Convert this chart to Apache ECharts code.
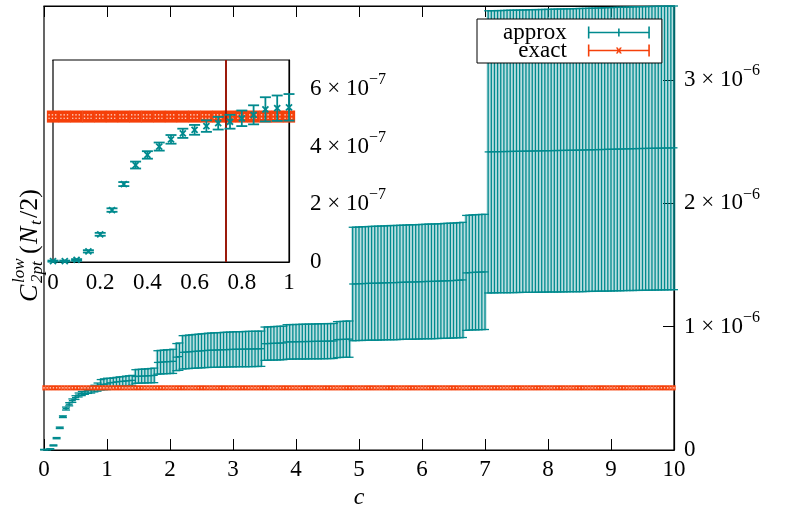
<!DOCTYPE html>
<html>
<head>
<meta charset="utf-8">
<title>C2pt low approx vs exact</title>
<script src="https://cdn.jsdelivr.net/npm/echarts@6/dist/echarts.min.js"></script>
<style>
  html, body { margin: 0; padding: 0; background: #fff; }
  #main { width: 785px; height: 510px; }
</style>
</head>
<body>
<div id="main"></div>
<script>
// c grid (step 0.05)
const cValues = [
  0,0.05,0.1,0.15,0.2,0.25,0.3,0.35,0.4,0.45,0.5,0.55,0.6,0.65,0.7,0.75,0.8,0.85,0.9,0.95,
  1,1.05,1.1,1.15,1.2,1.25,1.3,1.35,1.4,1.45,1.5,1.55,1.6,1.65,1.7,1.75,1.8,1.85,1.9,1.95,
  2,2.05,2.1,2.15,2.2,2.25,2.3,2.35,2.4,2.45,2.5,2.55,2.6,2.65,2.7,2.75,2.8,2.85,2.9,2.95,
  3,3.05,3.1,3.15,3.2,3.25,3.3,3.35,3.4,3.45,3.5,3.55,3.6,3.65,3.7,3.75,3.8,3.85,3.9,3.95,
  4,4.05,4.1,4.15,4.2,4.25,4.3,4.35,4.4,4.45,4.5,4.55,4.6,4.65,4.7,4.75,4.8,4.85,4.9,4.95,
  5,5.05,5.1,5.15,5.2,5.25,5.3,5.35,5.4,5.45,5.5,5.55,5.6,5.65,5.7,5.75,5.8,5.85,5.9,5.95,
  6,6.05,6.1,6.15,6.2,6.25,6.3,6.35,6.4,6.45,6.5,6.55,6.6,6.65,6.7,6.75,6.8,6.85,6.9,6.95,
  7,7.05,7.1,7.15,7.2,7.25,7.3,7.35,7.4,7.45,7.5,7.55,7.6,7.65,7.7,7.75,7.8,7.85,7.9,7.95,
  8,8.05,8.1,8.15,8.2,8.25,8.3,8.35,8.4,8.45,8.5,8.55,8.6,8.65,8.7,8.75,8.8,8.85,8.9,8.95,
  9,9.05,9.1,9.15,9.2,9.25,9.3,9.35,9.4,9.45,9.5,9.55,9.6,9.65,9.7,9.75,9.8,9.85,9.9,9.95,
  10
];

// approx C2pt^low(Nt/2), in units of 1e-7
const approxMean = [
  0.03,0.03,0.07,0.37,0.96,1.80,2.70,3.36,3.71,4.00,4.25,4.46,4.58,4.71,4.81,4.86,4.98,5.10,5.29,5.33,
  5.36,5.45,5.48,5.52,5.55,5.57,5.60,5.62,5.65,5.96,5.98,5.99,6.00,6.02,6.03,6.05,7.10,7.12,7.14,7.16,
  7.17,7.19,7.53,7.57,7.92,7.94,7.96,7.98,8.00,8.02,8.04,8.06,8.08,8.09,8.10,8.11,8.12,8.13,8.14,8.15,
  8.16,8.17,8.17,8.18,8.18,8.19,8.19,8.20,8.20,8.21,8.62,8.63,8.64,8.65,8.66,8.67,8.68,8.76,8.77,8.77,
  8.78,8.78,8.79,8.79,8.80,8.80,8.81,8.81,8.82,8.82,8.83,8.83,8.84,8.95,8.96,8.97,8.98,8.99,13.46,13.47,
  13.48,13.49,13.50,13.51,13.52,13.52,13.53,13.54,13.55,13.56,13.57,13.57,13.58,13.59,13.60,13.61,13.62,13.62,13.63,13.64,
  13.65,13.66,13.67,13.67,13.68,13.69,13.70,13.71,13.72,13.73,13.74,13.76,13.77,13.79,14.36,14.38,14.40,14.41,14.42,14.43,
  14.44,24.17,24.18,24.18,24.19,24.19,24.20,24.20,24.21,24.21,24.22,24.22,24.23,24.23,24.24,24.24,24.25,24.25,24.26,24.26,
  24.27,24.27,24.28,24.28,24.29,24.29,24.30,24.30,24.31,24.31,24.32,24.32,24.33,24.34,24.34,24.35,24.36,24.36,24.37,24.38,
  24.38,24.39,24.40,24.40,24.41,24.42,24.42,24.43,24.44,24.44,24.45,24.45,24.46,24.46,24.47,24.47,24.48,24.48,24.49,24.49,
  24.50
];
const approxErr = [
  0.02,0.02,0.03,0.04,0.05,0.06,0.07,0.12,0.13,0.14,0.15,0.16,0.17,0.20,0.22,0.24,0.27,0.33,0.42,0.44,
  0.46,0.36,0.37,0.37,0.38,0.38,0.39,0.40,0.40,0.55,0.56,0.56,0.57,0.57,0.58,0.59,0.95,0.96,0.96,0.97,
  0.97,0.98,1.10,1.11,1.35,1.35,1.36,1.36,1.37,1.37,1.38,1.38,1.39,1.39,1.40,1.40,1.40,1.41,1.41,1.41,
  1.42,1.42,1.42,1.42,1.43,1.43,1.43,1.43,1.43,1.43,1.35,1.35,1.35,1.36,1.36,1.36,1.36,1.40,1.40,1.40,
  1.40,1.40,1.41,1.41,1.41,1.41,1.41,1.42,1.42,1.42,1.42,1.42,1.42,1.46,1.46,1.46,1.47,1.47,4.60,4.60,
  4.60,4.61,4.61,4.61,4.61,4.62,4.62,4.62,4.62,4.62,4.63,4.63,4.63,4.63,4.63,4.63,4.64,4.64,4.64,4.64,
  4.64,4.64,4.65,4.65,4.65,4.65,4.65,4.66,4.66,4.66,4.66,4.66,4.67,4.67,4.66,4.66,4.66,4.67,4.67,4.67,
  4.67,11.44,11.44,11.44,11.44,11.44,11.44,11.45,11.45,11.45,11.45,11.45,11.45,11.45,11.46,11.46,11.46,11.46,11.46,11.46,
  11.46,11.46,11.47,11.47,11.47,11.47,11.47,11.47,11.47,11.48,11.48,11.48,11.48,11.48,11.48,11.48,11.48,11.48,11.49,11.49,
  11.49,11.49,11.49,11.49,11.49,11.49,11.49,11.50,11.50,11.50,11.50,11.50,11.50,11.50,11.50,11.50,11.50,11.50,11.50,11.50,
  11.50
];

// exact value (constant in c), units of 1e-7
const exactMean = 5.04;
const exactErr = 0.21;
// vertical marker in the inset
const cutoffC = 0.735;

const mainYTicks = [0, 10, 20, 30];
const mainYMantissa = ['0', '1 × 10', '2 × 10', '3 × 10'];
const mainYExp = ['', '−6', '−6', '−6'];
const insetYTicks = [0, 2, 4, 6];
const insetYMantissa = ['0', '2 × 10', '4 × 10', '6 × 10'];
const insetYExp = ['', '−7', '−7', '−7'];

const TEAL = '#008a8e';
const RED = '#f5400a';
const DARKRED = '#9b1a0c';
const FONT = 'Liberation Serif';

const approxData = cValues.map((c, i) => [c, approxMean[i], approxErr[i]]);
const exactData = cValues.map(c => [c, exactMean, exactErr]);
const approxInset = approxData.filter(d => d[0] <= 1);
const exactInset = exactData.filter(d => d[0] <= 1);

// error bar drawing (gnuplot style)
function errorBars(color, opt) {
  return function (params, api) {
    const c = api.value(0), v = api.value(1), e = api.value(2);
    const top = api.coord([c, v + e]);
    const bot = api.coord([c, v - e]);
    const mid = api.coord([c, v]);
    const x = mid[0], cw = opt.cap, m = opt.mark;
    const s = { stroke: color, lineWidth: opt.width };
    const kids = [];
    if (opt.shade) {
      kids.push({ type: 'rect', shape: { x: x - 1.6, y: top[1], width: 3.2, height: bot[1] - top[1] }, style: { fill: opt.shade } });
    }
    kids.push({ type: 'line', shape: { x1: x, y1: top[1], x2: x, y2: bot[1] }, style: s });
    kids.push({ type: 'line', shape: { x1: x - cw, y1: top[1], x2: x + cw, y2: top[1] }, style: s });
    kids.push({ type: 'line', shape: { x1: x - cw, y1: bot[1], x2: x + cw, y2: bot[1] }, style: s });
    if (opt.cross) {
      kids.push({ type: 'line', shape: { x1: x - m, y1: mid[1] - m, x2: x + m, y2: mid[1] + m }, style: s });
      kids.push({ type: 'line', shape: { x1: x - m, y1: mid[1] + m, x2: x + m, y2: mid[1] - m }, style: s });
    } else {
      kids.push({ type: 'line', shape: { x1: x - m, y1: mid[1], x2: x + m, y2: mid[1] }, style: s });
    }
    return { type: 'group', children: kids };
  };
}

// dense exact points merge into a solid band with small light gaps
function exactBand(opt) {
  return function (params, api) {
    const c = api.value(0), v = api.value(1), e = api.value(2);
    const p0 = api.coord([c - opt.half, v + e]);
    const p1 = api.coord([c + opt.half, v - e]);
    const mid = api.coord([c, v]);
    const kids = [{ type: 'rect', shape: { x: p0[0], y: p0[1], width: p1[0] - p0[0], height: p1[1] - p0[1] }, style: { fill: RED } }];
    opt.dots.forEach(d => kids.push({ type: 'rect',
      shape: { x: mid[0] + d[0] - 0.7, y: mid[1] + d[1] - 0.6, width: 1.4, height: 1.2 },
      style: { fill: '#ffe6dc' } }));
    return { type: 'group', children: kids };
  };
}

function sciLabel(ticks, mant, exps) {
  return function (v) {
    const i = ticks.indexOf(Math.round(v * 1000) / 1000);
    if (i < 0) return '';
    return exps[i] ? '{m|' + mant[i] + '}{e|' + exps[i] + '}' : '{m|' + mant[i] + '}';
  };
}
const sciRich = {
  m: { fontFamily: FONT, fontSize: 23, color: '#000', lineHeight: 34 },
  e: { fontFamily: FONT, fontSize: 16, color: '#000', lineHeight: 14, verticalAlign: 'top' }
};

const axisLine = { show: true, onZero: false, lineStyle: { color: '#000', width: 1.2 } };
const tickIn = { show: true, inside: true, length: 11, lineStyle: { color: '#000', width: 1 } };
const labelFont = { fontFamily: FONT, fontSize: 23, color: '#000' };

const myChart = echarts.init(document.getElementById('main'), null, { renderer: 'canvas' });

const option = {
  animation: false,
  backgroundColor: '#fff',
  grid: [
    { left: 44, right: 111, top: 6, bottom: 60, containLabel: false, outerBoundsMode: 'none',
      show: true, backgroundColor: 'transparent', borderColor: '#000', borderWidth: 1.2 },
    { left: 53, top: 60, width: 236, height: 202, containLabel: false, outerBoundsMode: 'none',
      show: true, backgroundColor: '#fff', borderColor: '#000', borderWidth: 1.2, z: 3 }
  ],
  xAxis: [
    { gridIndex: 0, type: 'value', min: 0, max: 10, interval: 1, position: 'bottom',
      axisLine: axisLine, axisTick: tickIn, splitLine: { show: false },
      axisLabel: Object.assign({ margin: 8 }, labelFont),
      name: 'c', nameLocation: 'middle', nameGap: 34,
      nameTextStyle: { fontFamily: FONT, fontSize: 24, fontStyle: 'italic', color: '#000' } },
    { gridIndex: 0, type: 'value', min: 0, max: 10, interval: 1, position: 'top',
      axisLine: axisLine, axisTick: tickIn, splitLine: { show: false }, axisLabel: { show: false } },
    { gridIndex: 1, type: 'value', min: 0, max: 1, interval: 0.2, position: 'bottom',
      axisLine: axisLine, axisTick: tickIn, splitLine: { show: false },
      axisLabel: Object.assign({ margin: 9 }, labelFont) },
    { gridIndex: 1, type: 'value', min: 0, max: 1, interval: 0.2, position: 'top',
      axisLine: axisLine, axisTick: tickIn, splitLine: { show: false }, axisLabel: { show: false } }
  ],
  yAxis: [
    { gridIndex: 0, type: 'value', min: 0, max: 36, interval: 10, position: 'right',
      axisLine: axisLine, axisTick: tickIn, splitLine: { show: false },
      axisLabel: { margin: 10, formatter: sciLabel(mainYTicks, mainYMantissa, mainYExp), rich: sciRich } },
    { gridIndex: 1, type: 'value', min: 0, max: 7, interval: 2, position: 'right',
      axisLine: axisLine, axisTick: tickIn, splitLine: { show: false },
      axisLabel: { margin: 21, formatter: sciLabel(insetYTicks, insetYMantissa, insetYExp), rich: sciRich } }
  ],
  legend: {
    left: 477, top: 19, orient: 'vertical', align: 'right',
    padding: [2, 12, 1, 26], itemGap: -5,
    backgroundColor: '#fff', borderColor: '#000', borderWidth: 1, borderRadius: 0,
    itemWidth: 62, itemHeight: 12, selectedMode: false,
    textStyle: { fontFamily: FONT, fontSize: 23, color: '#000', align: 'right',
      padding: [0, 16, 0, 0] },
    data: [
      { name: 'approx', itemStyle: { color: TEAL },
        icon: 'path://M0,0h1.6v12h-1.6z M0,5.2h62v1.6h-62z M60.4,0h1.6v12h-1.6z M30.2,2h1.6v8h-1.6z' },
      { name: 'exact', itemStyle: { color: RED },
        icon: 'path://M0,0h1.6v12h-1.6z M0,5.2h62v1.6h-62z M60.4,0h1.6v12h-1.6z M28,3h2l1,2l1,-2h2l-2,3l2,3h-2l-1,-2l-1,2h-2l2,-3z' }
    ]
  },
  graphic: [
    { type: 'group', x: 30, y: 236, rotation: Math.PI / 2, z: 10,
      children: [
        { type: 'text', x: -66, y: 0, style: { text: 'C', fontFamily: FONT, fontSize: 26, fontStyle: 'italic', fill: '#000', verticalAlign: 'middle' } },
        { type: 'text', x: -47, y: -10, style: { text: 'low', fontFamily: FONT, fontSize: 17, fontStyle: 'italic', fill: '#000', verticalAlign: 'middle' } },
        { type: 'text', x: -47, y: 8, style: { text: '2pt', fontFamily: FONT, fontSize: 17, fontStyle: 'italic', fill: '#000', verticalAlign: 'middle' } },
        { type: 'text', x: -18, y: 0, style: { text: '(', fontFamily: FONT, fontSize: 26, fill: '#000', verticalAlign: 'middle' } },
        { type: 'text', x: -8, y: 0, style: { text: 'N', fontFamily: FONT, fontSize: 26, fontStyle: 'italic', fill: '#000', verticalAlign: 'middle' } },
        { type: 'text', x: 11, y: 7, style: { text: 't', fontFamily: FONT, fontSize: 17, fontStyle: 'italic', fill: '#000', verticalAlign: 'middle' } },
        { type: 'text', x: 18, y: 0, style: { text: '/2)', fontFamily: FONT, fontSize: 26, fill: '#000', verticalAlign: 'middle' } }
      ]
    }
  ],
  series: [
    { name: 'approx', type: 'custom', xAxisIndex: 0, yAxisIndex: 0, clip: false,
      itemStyle: { color: TEAL }, encode: { x: 0, y: 1 },
      renderItem: errorBars(TEAL, { cap: 4, mark: 3.5, width: 1.3, shade: 'rgba(0,138,142,0.28)' }),
      data: approxData },
    { name: 'exact', type: 'custom', xAxisIndex: 0, yAxisIndex: 0, clip: false,
      itemStyle: { color: RED }, encode: { x: 0, y: 1 },
      renderItem: exactBand({ half: 0.026, dots: [[0, 0]] }),
      data: exactData },
    { name: 'approx', type: 'custom', xAxisIndex: 2, yAxisIndex: 1, clip: false, z: 5,
      itemStyle: { color: TEAL }, encode: { x: 0, y: 1 },
      renderItem: errorBars(TEAL, { cap: 5.5, mark: 3, width: 1.8, cross: true }),
      data: approxInset },
    { name: 'exact', type: 'custom', xAxisIndex: 2, yAxisIndex: 1, clip: false, z: 4,
      itemStyle: { color: RED }, encode: { x: 0, y: 1 },
      renderItem: exactBand({ half: 0.026, dots: [[-3.9, -1.7], [-0.6, -1.7], [2.7, -1.7], [-3.9, 1.7], [-0.6, 1.7], [2.7, 1.7]] }),
      data: exactInset },
    { name: 'cutoff', type: 'line', xAxisIndex: 2, yAxisIndex: 1, data: [], z: 6,
      markLine: { symbol: 'none', silent: true, label: { show: false },
        lineStyle: { color: DARKRED, width: 2, type: 'solid' },
        data: [{ xAxis: cutoffC }] } }
  ]
};

option && myChart.setOption(option);

window.addEventListener('resize', function () {
  myChart.resize();
});
</script>
</body>
</html>
